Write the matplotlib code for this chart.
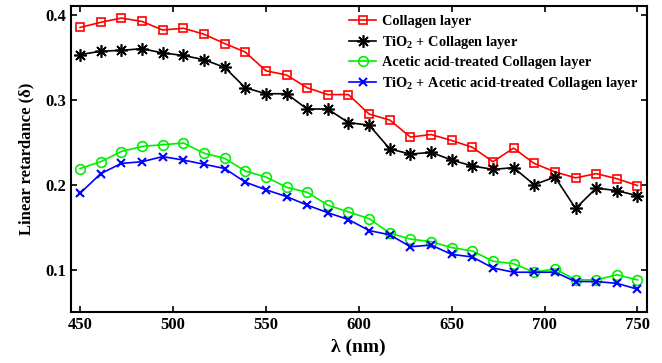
import matplotlib
matplotlib.use('Agg')
import matplotlib.pyplot as plt

plt.rcParams['font.family'] = 'Liberation Serif'
plt.rcParams['font.weight'] = 'bold'
plt.rcParams['mathtext.fontset'] = 'custom'
plt.rcParams['mathtext.rm'] = 'Liberation Serif:bold'
plt.rcParams['mathtext.bf'] = 'Liberation Serif:bold'
plt.rcParams['mathtext.it'] = 'Liberation Serif:bold'

# wavelength grid (nm)
wl = [450.0, 461.1, 472.2, 483.3, 494.4, 505.6, 516.7, 527.8, 538.9, 550.0,
      561.1, 572.2, 583.3, 594.4, 605.6, 616.7, 627.8, 638.9, 650.0, 661.1,
      672.2, 683.3, 694.4, 705.6, 716.7, 727.8, 738.9, 750.0]

collagen = [0.385, 0.391, 0.396, 0.392, 0.382, 0.384, 0.377, 0.366, 0.356, 0.334,
            0.329, 0.314, 0.306, 0.306, 0.283, 0.276, 0.256, 0.259, 0.252, 0.244,
            0.227, 0.243, 0.225, 0.215, 0.208, 0.213, 0.207, 0.199]
tio2_collagen = [0.353, 0.357, 0.358, 0.360, 0.355, 0.352, 0.347, 0.338, 0.314, 0.307,
                 0.307, 0.289, 0.289, 0.273, 0.270, 0.242, 0.236, 0.238, 0.229, 0.222,
                 0.218, 0.220, 0.200, 0.209, 0.172, 0.196, 0.193, 0.187]
acetic = [0.219, 0.227, 0.239, 0.245, 0.247, 0.249, 0.237, 0.231, 0.216, 0.209,
          0.197, 0.191, 0.176, 0.168, 0.160, 0.143, 0.136, 0.133, 0.126, 0.122,
          0.110, 0.107, 0.097, 0.101, 0.088, 0.088, 0.094, 0.088]
tio2_acetic = [0.190, 0.213, 0.225, 0.227, 0.233, 0.229, 0.224, 0.219, 0.203, 0.194,
               0.186, 0.176, 0.167, 0.159, 0.146, 0.141, 0.127, 0.129, 0.118, 0.115,
               0.102, 0.097, 0.097, 0.097, 0.086, 0.086, 0.084, 0.077]

labels = ['Collagen layer',
          r'TiO$_2$ + Collagen layer',
          'Acetic acid-treated Collagen layer',
          r'TiO$_2$ + Acetic acid-treated Collagen layer']

fig = plt.figure(figsize=(6.62, 3.63), dpi=100)
ax = fig.add_axes([0.107, 0.14, 0.87, 0.843])

ax.plot(wl, collagen, color='#ff0000', lw=1.2, marker='s', ms=6,
        mfc='none', mec='#ff0000', mew=1.2, label=labels[0])
ax.plot(wl, tio2_collagen, color='black', lw=1.2, marker=(8, 2, 0), ms=9,
        mew=1.2, label=labels[1])
ax.plot(wl, acetic, color='#00ee00', lw=1.2, marker='o', ms=7,
        mfc='none', mec='#00ee00', mew=1.2, label=labels[2])
ax.plot(wl, tio2_acetic, color='#0000ff', lw=1.2, marker='x', ms=6,
        mew=1.5, label=labels[3])

ax.set_xlim(445, 755)
ax.set_ylim(0.05, 0.41)
ax.set_xticks([450, 500, 550, 600, 650, 700, 750])
ax.set_yticks([0.1, 0.2, 0.3, 0.4])
ax.tick_params(direction='in', top=True, right=True, labelsize=12, length=4, width=1.2)
for s in ax.spines.values():
    s.set_linewidth(1.5)

ax.set_xlabel(r'λ (nm)', fontsize=14, fontweight='bold', labelpad=4)
ax.set_ylabel(r'Linear retardance (δ)', fontsize=12, fontweight='bold', labelpad=8)

leg = ax.legend(loc='upper right', bbox_to_anchor=(0.995, 0.99), frameon=False,
                fontsize=10.4, handlelength=1.9, handletextpad=0.4,
                labelspacing=0.38, borderaxespad=0.0)

fig.savefig('out.png', dpi=100)
